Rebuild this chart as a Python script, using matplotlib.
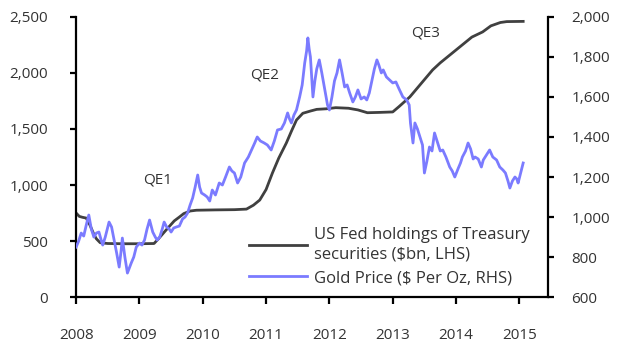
import matplotlib
matplotlib.use("Agg")
import matplotlib.pyplot as plt

plt.rcParams['font.family'] = ['Open Sans', 'DejaVu Sans']

# Fed holdings of Treasury securities ($bn, LHS), decimal years
fed_years = [2008.00, 2008.05, 2008.10, 2008.16, 2008.22, 2008.28, 2008.32, 2008.38,
             2008.50, 2008.75, 2009.00, 2009.23, 2009.30, 2009.42, 2009.55, 2009.63,
             2009.70, 2009.80, 2009.90, 2010.20, 2010.50, 2010.69, 2010.80, 2010.90,
             2011.00, 2011.10, 2011.20, 2011.32, 2011.40, 2011.48, 2011.58, 2011.70,
             2011.80, 2011.95, 2012.10, 2012.30, 2012.45, 2012.60, 2012.80, 2013.00,
             2013.10, 2013.27, 2013.50, 2013.63, 2013.75, 2014.00, 2014.25, 2014.42,
             2014.55, 2014.70, 2014.80, 2015.06]
fed_vals = [750, 720, 712, 705, 640, 560, 520, 485,
            478, 476, 476, 478, 520, 598, 680, 714,
            745, 768, 775, 778, 780, 785, 820, 866,
            960, 1107, 1240, 1375, 1480, 1580, 1640, 1660,
            1675, 1680, 1690, 1685, 1670, 1645, 1648, 1652,
            1700, 1786, 1940, 2027, 2090, 2205, 2320, 2366,
            2420, 2450, 2458, 2460]

# Gold price ($ per oz, RHS)
gold_years = [2008.00, 2008.04, 2008.08, 2008.12, 2008.16, 2008.20, 2008.24, 2008.28,
              2008.32, 2008.36, 2008.40, 2008.42, 2008.46, 2008.52, 2008.56, 2008.60,
              2008.64, 2008.68, 2008.71, 2008.73, 2008.77, 2008.81, 2008.84, 2008.87,
              2008.91, 2008.95, 2009.00, 2009.04, 2009.08, 2009.12, 2009.16, 2009.21,
              2009.25, 2009.28, 2009.32, 2009.36, 2009.39, 2009.43, 2009.47, 2009.50,
              2009.54, 2009.58, 2009.63, 2009.68, 2009.72, 2009.76, 2009.80, 2009.84,
              2009.88, 2009.92, 2009.95, 2009.98, 2010.03, 2010.07, 2010.11, 2010.15,
              2010.20, 2010.26, 2010.31, 2010.36, 2010.42, 2010.46, 2010.50, 2010.55,
              2010.60, 2010.66, 2010.72, 2010.77, 2010.82, 2010.86, 2010.91, 2010.97,
              2011.02, 2011.08, 2011.13, 2011.18, 2011.24, 2011.29, 2011.34, 2011.37,
              2011.40, 2011.44, 2011.48, 2011.53, 2011.57, 2011.61, 2011.64, 2011.66,
              2011.68, 2011.70, 2011.72, 2011.74, 2011.77, 2011.80, 2011.84, 2011.88,
              2011.92, 2011.97, 2012.00, 2012.04, 2012.08, 2012.12, 2012.16, 2012.20,
              2012.24, 2012.28, 2012.32, 2012.37, 2012.41, 2012.45, 2012.50, 2012.55,
              2012.59, 2012.63, 2012.67, 2012.71, 2012.75, 2012.78, 2012.82, 2012.85,
              2012.90, 2012.95, 2013.00, 2013.05, 2013.10, 2013.16, 2013.22, 2013.26,
              2013.28, 2013.32, 2013.35, 2013.39, 2013.43, 2013.47, 2013.50, 2013.54,
              2013.58, 2013.62, 2013.66, 2013.70, 2013.75, 2013.79, 2013.84, 2013.90,
              2013.94, 2013.98, 2014.03, 2014.07, 2014.10, 2014.15, 2014.19, 2014.23,
              2014.27, 2014.30, 2014.35, 2014.40, 2014.43, 2014.48, 2014.53, 2014.58,
              2014.64, 2014.69, 2014.74, 2014.78, 2014.82, 2014.85, 2014.89, 2014.93,
              2014.96, 2014.98, 2015.02, 2015.06]
gold_vals = [850, 880, 920, 905, 960, 1010, 940, 900,
             920, 925, 880, 860, 900, 975, 950, 885,
             820, 750, 830, 895, 800, 720, 745, 770,
             800, 850, 870, 860, 885, 940, 985, 925,
             900, 885, 900, 940, 975, 950, 940, 925,
             945, 950, 955, 990, 1000, 1020, 1060, 1095,
             1150, 1210, 1150, 1120, 1110, 1100, 1080, 1135,
             1110, 1170, 1160, 1200, 1250, 1230, 1220, 1170,
             1200, 1270, 1300, 1335, 1370, 1400, 1380, 1370,
             1360, 1335, 1380, 1435, 1440, 1470, 1520, 1490,
             1470, 1510, 1535, 1600, 1660, 1770, 1830, 1895,
             1840, 1800, 1700, 1600, 1680, 1740, 1785, 1720,
             1650, 1560, 1535, 1600, 1680, 1720, 1785, 1720,
             1650, 1660, 1620, 1575, 1600, 1635, 1590, 1600,
             1585, 1620, 1680, 1740, 1785, 1760, 1720, 1735,
             1700, 1685, 1670, 1675, 1640, 1600, 1585, 1560,
             1470, 1370, 1470, 1440, 1400, 1360, 1220, 1280,
             1350, 1330, 1420, 1380, 1330, 1335, 1300, 1250,
             1230, 1200, 1240, 1270, 1300, 1330, 1370, 1340,
             1290, 1300, 1290, 1250, 1285, 1310, 1335, 1300,
             1285, 1250, 1235, 1220, 1180, 1145, 1180, 1200,
             1190, 1170, 1220, 1270]

years = [2008, 2009, 2010, 2011, 2012, 2013, 2014, 2015]
left_ticks = [0, 500, 1000, 1500, 2000, 2500]
right_ticks = [600, 800, 1000, 1200, 1400, 1600, 1800, 2000]

qe_labels = ["QE1", "QE2", "QE3"]
qe_x = [2009.28, 2010.97, 2013.52]
qe_y = [1045, 1980, 2355]

txt = '#333333'
fs = 11
fig = plt.figure(figsize=(6.24, 3.52), dpi=100)
ax = fig.add_axes([0.122, 0.156, 0.756, 0.796])
ax2 = ax.twinx()

l1, = ax.plot(fed_years, fed_vals, color='#404040', lw=2, zorder=2)
l2, = ax2.plot(gold_years, gold_vals, color='#7b7bff', lw=2, zorder=3)

ax.set_xlim(2008, 2015.45)
ax.set_ylim(0, 2500)
ax2.set_ylim(600, 2000)
ax.set_xticks(years)
ax.set_xticklabels([str(y) for y in years])
ax.set_yticks(left_ticks)
ax.set_yticklabels([f"{v:,}" for v in left_ticks])
ax2.set_yticks(right_ticks)
ax2.set_yticklabels([f"{v:,}" for v in right_ticks])

for a in (ax, ax2):
    a.spines['top'].set_visible(False)
    for s in ('left', 'right', 'bottom'):
        a.spines[s].set_linewidth(1.6)
        a.spines[s].set_color('black')
    a.set_facecolor('none')
ax.spines['right'].set_visible(False)
ax2.spines['left'].set_visible(False)
ax2.spines['bottom'].set_visible(False)

ax.tick_params(axis='x', direction='out', length=5, width=1.6, pad=17,
               labelsize=fs, labelcolor=txt)
ax.tick_params(axis='y', direction='out', length=4, width=1.6, pad=16,
               labelsize=fs, labelcolor=txt)
ax2.tick_params(axis='y', direction='out', length=4, width=1.6, pad=13,
                labelsize=fs, labelcolor=txt)

for lab, x, y in zip(qe_labels, qe_x, qe_y):
    ax.text(x, y, lab, ha='center', va='center', fontsize=fs, color=txt)

leg = ax.legend([l1, l2], ["US Fed holdings of Treasury\nsecurities ($bn, LHS)",
                           "Gold Price ($ Per Oz, RHS)"],
                loc='lower right', bbox_to_anchor=(0.976, 0.015), frameon=False,
                fontsize=12, handlelength=3.5, handletextpad=0.4,
                labelspacing=0.45, borderaxespad=0.0, borderpad=0.4)
for t in leg.get_texts():
    t.set_color(txt)
    t.set_linespacing(1.35)
leg.set_zorder(5)

fig.savefig('out.png', dpi=100)
